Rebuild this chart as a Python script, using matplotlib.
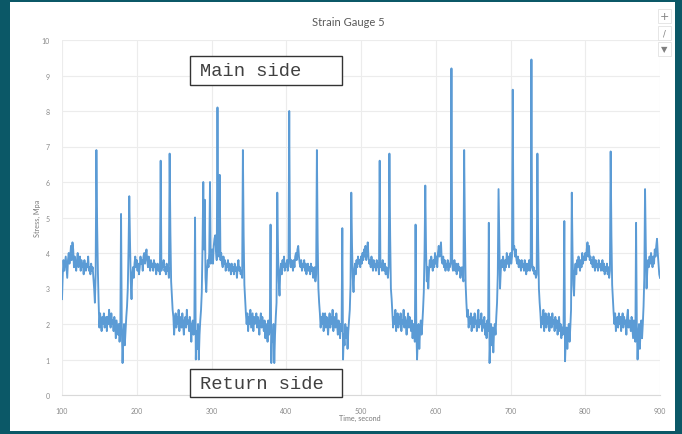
import numpy as np
import matplotlib
matplotlib.use("Agg")
import matplotlib.pyplot as plt
from matplotlib.patches import Rectangle

# Sample times (one reading per second) and measured stress, MPa
time_start = 100
time_step = 1

stress_100_199 = [
    2.7, 3.4, 3.8, 3.5, 3.7, 3.9, 3.6, 3.3, 3.8, 4.0,
    3.7, 3.9, 4.2, 3.8, 4.3, 4.1, 3.6, 3.9, 3.7, 3.5,
    3.8, 4.0, 3.6, 3.7, 3.9, 3.5, 3.8, 3.6, 3.7, 3.4,
    3.8, 3.6, 3.5, 3.7, 3.6, 3.9, 3.5, 3.6, 3.4, 3.7,
    3.5, 3.6, 3.3, 3.0, 2.6, 3.4, 6.9, 4.8, 3.5, 2.6,
    1.9, 2.3, 2.0, 1.8, 2.2, 2.0, 2.3, 1.9, 2.1, 2.2,
    1.8, 2.2, 2.0, 2.4, 2.1, 1.9, 2.3, 2.0, 2.1, 1.8,
    2.2, 2.0, 1.6, 2.1, 1.9, 1.7, 2.0, 1.5, 1.8, 5.1,
    1.9, 0.9, 1.6, 2.0, 1.4, 1.8, 2.2, 2.5, 3.0, 4.1,
    5.6, 4.3, 3.2, 2.7, 3.4, 3.6, 3.3, 3.7, 3.9, 3.6,
]
stress_200_299 = [
    3.8, 3.5, 3.7, 3.4, 3.6, 3.9, 3.7, 3.8, 3.5, 3.9,
    4.0, 3.7, 3.9, 4.1, 3.8, 3.6, 3.9, 3.7, 3.5, 3.8,
    3.6, 3.7, 3.5, 3.8, 3.6, 3.7, 3.4, 3.6, 3.7, 3.5,
    3.6, 3.4, 6.6, 3.5, 3.7, 3.6, 3.8, 3.5, 3.6, 3.4,
    3.7, 3.5, 3.6, 3.3, 6.8, 4.6, 3.2, 2.8, 2.4, 2.2,
    1.7, 2.1, 2.3, 1.9, 2.2, 2.0, 2.4, 1.8, 2.1, 2.2,
    1.9, 2.3, 2.0, 1.7, 2.1, 2.2, 1.9, 2.4, 2.0, 2.1,
    1.8, 2.2, 1.9, 1.5, 2.0, 2.1, 1.7, 1.9, 5.0, 1.0,
    1.8, 1.3, 2.0, 1.0, 1.7, 2.1, 2.4, 2.9, 4.2, 6.0,
    4.1, 5.5, 3.3, 2.9, 3.5, 3.8, 3.6, 4.0, 6.0, 3.7,
]
stress_300_399 = [
    3.9, 4.1, 3.7, 4.2, 4.4, 4.5, 4.1, 3.8, 8.1, 4.3,
    3.9, 6.2, 3.8, 4.0, 3.7, 3.6, 3.9, 3.7, 3.8, 3.5,
    3.7, 3.6, 3.8, 3.5, 3.7, 3.6, 3.4, 3.7, 3.5, 3.6,
    3.4, 3.7, 3.5, 3.6, 3.3, 3.6, 3.8, 3.5, 3.6, 3.4,
    3.5, 3.3, 6.9, 4.5, 3.1, 2.7, 2.3, 2.0, 2.3, 1.8,
    2.2, 2.0, 2.4, 1.9, 2.1, 2.3, 1.8, 2.2, 2.0, 2.1,
    2.3, 1.9, 2.2, 2.0, 1.7, 2.1, 2.3, 1.9, 2.2, 2.0,
    1.8, 2.1, 1.6, 2.0, 1.9, 1.5, 2.1, 1.7, 1.9, 4.8,
    0.9, 1.8, 1.5, 2.0, 0.9, 1.7, 2.2, 2.6, 5.7, 4.0,
    3.2, 2.8, 3.5, 3.7, 3.4, 3.8, 3.6, 3.9, 3.5, 3.7,
]
stress_400_499 = [
    3.6, 3.8, 3.5, 3.7, 8.0, 3.9, 3.6, 3.8, 3.7, 3.5,
    3.8, 3.6, 3.9, 4.0, 3.8, 4.1, 4.2, 3.9, 3.7, 3.6,
    3.8, 3.5, 3.7, 3.6, 3.8, 3.5, 3.7, 3.4, 3.6, 3.7,
    3.5, 3.6, 3.4, 3.7, 3.5, 3.6, 3.3, 3.5, 3.6, 3.2,
    3.4, 6.9, 4.4, 3.0, 2.6, 2.3, 1.9, 2.2, 2.0, 2.3,
    1.8, 2.1, 2.3, 1.9, 2.2, 2.0, 1.7, 2.1, 2.3, 1.9,
    2.2, 2.0, 2.4, 1.8, 2.1, 2.2, 1.9, 2.3, 2.0, 1.7,
    2.1, 1.9, 1.6, 2.0, 1.8, 4.7, 1.0, 1.7, 1.4, 2.0,
    1.6, 1.9, 1.3, 1.8, 2.1, 2.4, 3.1, 5.7, 4.2, 3.3,
    2.9, 3.5, 3.7, 3.4, 3.8, 3.6, 3.9, 3.7, 3.8, 3.6,
]
stress_500_599 = [
    3.9, 3.7, 4.0, 3.8, 4.1, 3.9, 4.2, 3.8, 4.0, 4.3,
    3.9, 3.7, 3.8, 3.6, 3.9, 3.7, 3.5, 3.8, 3.6, 3.7,
    3.5, 3.8, 3.6, 3.7, 3.4, 6.6, 3.6, 3.7, 3.5, 3.8,
    3.6, 3.5, 3.7, 3.4, 3.6, 3.5, 3.3, 3.6, 6.8, 4.5,
    3.0, 2.7, 2.3, 1.9, 2.2, 2.0, 2.4, 1.8, 2.1, 2.3,
    1.9, 2.2, 2.0, 2.3, 1.8, 2.1, 2.0, 2.4, 1.9, 2.2,
    2.0, 1.7, 2.1, 2.3, 1.9, 2.2, 2.0, 1.8, 2.1, 1.6,
    2.0, 1.8, 1.5, 4.8, 1.9, 1.0, 1.6, 2.0, 1.3, 1.8,
    2.1, 1.7, 2.0, 2.4, 2.9, 4.0, 5.9, 4.1, 3.2, 3.6,
    3.0, 3.5, 3.8, 3.6, 3.9, 3.7, 3.5, 3.8, 3.6, 4.0,
]
stress_600_699 = [
    3.7, 3.9, 3.6, 4.0, 4.2, 3.9, 4.1, 4.3, 3.8, 3.7,
    3.9, 3.6, 3.8, 3.5, 3.7, 3.6, 3.8, 3.5, 3.7, 3.6,
    3.8, 9.2, 3.7, 3.5, 3.6, 3.8, 3.5, 3.7, 3.4, 3.6,
    3.7, 3.5, 3.6, 3.3, 3.5, 3.6, 3.4, 3.2, 6.9, 4.6,
    3.1, 2.6, 2.2, 2.4, 1.9, 2.2, 2.0, 2.3, 1.8, 2.1,
    2.2, 1.9, 2.3, 2.0, 2.1, 1.8, 2.2, 2.4, 1.9, 2.1,
    2.0, 2.3, 1.8, 2.1, 1.9, 2.2, 1.7, 2.0, 1.6, 2.1,
    1.8, 4.85, 0.9, 1.7, 2.0, 1.4, 1.9, 1.2, 1.8, 2.0,
    1.7, 2.2, 2.6, 3.4, 5.8, 4.3, 3.0, 3.5, 3.8, 3.6,
    3.9, 3.7, 3.5, 3.8, 3.6, 4.0, 3.7, 3.9, 3.6, 3.8,
]
stress_700_799 = [
    4.0, 3.7, 3.9, 8.6, 4.1, 4.2, 3.9, 4.1, 3.8, 3.7,
    3.9, 3.6, 3.8, 3.7, 3.5, 3.8, 3.6, 3.7, 3.5, 3.8,
    3.6, 3.4, 3.7, 3.5, 3.6, 3.8, 3.5, 3.6, 9.45, 3.7,
    3.5, 3.6, 3.4, 3.5, 3.3, 3.4, 6.8, 4.4, 3.0, 2.6,
    2.3, 1.9, 2.2, 2.0, 2.4, 1.8, 2.1, 2.3, 1.9, 2.2,
    2.0, 2.3, 1.8, 2.1, 2.2, 1.9, 2.3, 2.0, 2.1, 1.8,
    2.2, 1.9, 2.1, 1.7, 2.0, 2.2, 1.8, 2.0, 1.6, 1.9,
    1.7, 2.0, 4.9, 0.95, 1.6, 1.9, 1.3, 1.8, 2.0, 1.5,
    1.9, 2.4, 5.7, 4.0, 3.1, 2.8, 3.5, 3.7, 3.4, 3.8,
    3.6, 3.9, 3.7, 3.5, 3.8, 3.6, 4.0, 3.7, 3.9, 3.8,
]
stress_800_900 = [
    4.0, 3.8, 4.1, 4.3, 3.9, 4.2, 3.8, 3.9, 3.7, 3.8,
    3.6, 3.9, 3.7, 3.5, 3.8, 3.6, 3.7, 3.5, 3.8, 3.6,
    3.7, 3.5, 3.6, 3.8, 3.5, 3.7, 3.4, 3.6, 3.5, 3.7,
    3.4, 3.6, 3.3, 3.5, 6.86, 4.5, 3.1, 2.7, 2.3, 2.0,
    2.3, 1.8, 2.1, 2.2, 1.9, 2.3, 2.0, 2.2, 1.8, 2.1,
    2.3, 1.9, 2.2, 2.0, 2.1, 1.7, 2.2, 2.4, 1.9, 2.1,
    2.0, 1.8, 2.2, 1.9, 1.6, 2.1, 1.8, 1.5, 4.85, 1.9,
    1.0, 1.7, 2.0, 1.3, 1.8, 2.1, 1.6, 2.0, 2.5, 3.3,
    5.8, 4.2, 3.0, 3.5, 3.8, 3.6, 3.9, 3.7, 4.0, 3.8,
    3.6, 3.9, 3.7, 4.1, 3.9, 4.2, 4.4, 4.0, 3.7, 3.4,
    3.3,
]

x_ticks = [100, 200, 300, 400, 500, 600, 700, 800, 900]
y_ticks = [0, 1, 2, 3, 4, 5, 6, 7, 8, 9, 10]
title_text = "Strain Gauge 5"
x_label = "Time, second"
y_label = "Stress, Mpa"
upper_note = "Main side"
lower_note = "Return side"

stress = np.concatenate([
    stress_100_199, stress_200_299, stress_300_399, stress_400_499,
    stress_500_599, stress_600_699, stress_700_799, stress_800_900,
])
time = time_start + time_step * np.arange(len(stress))

W, H = 682, 435
fig = plt.figure(figsize=(W / 100, H / 100), dpi=100)
fig.patch.set_facecolor("#0b5867")

def fx(px):
    return px / W

def fy(py):
    return 1 - py / H

# white chart panel
fig.add_artist(Rectangle((fx(10), fy(432)), fx(665), 429 / H,
                         transform=fig.transFigure, facecolor="white",
                         edgecolor="none", zorder=0))

ax = fig.add_axes([fx(62), fy(396), fx(598), 355 / H])
ax.set_facecolor("none")
ax.plot(time, stress, color="#5b9bd5", lw=1.35, zorder=3)

ax.set_xlim(100, 900)
ax.set_ylim(0, 10)
ax.set_xticks(x_ticks)
ax.set_yticks(y_ticks)
ax.set_xticklabels([str(v) for v in x_ticks])
ax.set_yticklabels([str(v) for v in y_ticks])
ax.grid(True, color="#ececec", lw=0.8, zorder=0)
for side in ["top", "right", "left"]:
    ax.spines[side].set_visible(False)
ax.spines["bottom"].set_color("#d9d9d9")
ax.spines["bottom"].set_linewidth(0.8)
ax.tick_params(length=0, labelsize=5, labelcolor="#8a8a8a", pad=9)
for lbl in ax.get_xticklabels() + ax.get_yticklabels():
    lbl.set_family("Lato")

fig.text(fx(348), fy(22), title_text, ha="center", va="center",
         fontsize=8, color="#595959", family="Lato")
fig.text(fx(360), fy(418), x_label, ha="center", va="center",
         fontsize=5.2, color="#7a7a7a", family="Lato")
fig.text(fx(37), fy(218), y_label, ha="center", va="center", rotation=90,
         fontsize=5.2, color="#7a7a7a", family="Lato")

# annotation boxes
for top, bottom, text, ty in [(57, 86, upper_note, 72), (370, 398, lower_note, 385)]:
    fig.add_artist(Rectangle((fx(190), fy(bottom)), fx(152), (bottom - top) / H,
                             transform=fig.transFigure, facecolor="white",
                             edgecolor="#333333", lw=1.0, zorder=5))
    fig.text(fx(200), fy(ty), text, ha="left", va="center", fontsize=13.5,
             color="#404040", family="Liberation Mono", zorder=6)

# chart tool buttons
for cy, glyph in [(17, "+"), (34, "/"), (50, "\u25BC")]:
    fig.add_artist(Rectangle((fx(658), fy(cy + 7)), fx(13), 14 / H,
                             transform=fig.transFigure, facecolor="white",
                             edgecolor="#e2e2e2", lw=0.6, zorder=5))
    fig.text(fx(664.5), fy(cy), glyph, ha="center", va="center",
             fontsize=6 if glyph != "+" else 8, color="#7f7f7f",
             family="DejaVu Sans", zorder=6)

fig.savefig("out.png", dpi=100, facecolor=fig.get_facecolor())
